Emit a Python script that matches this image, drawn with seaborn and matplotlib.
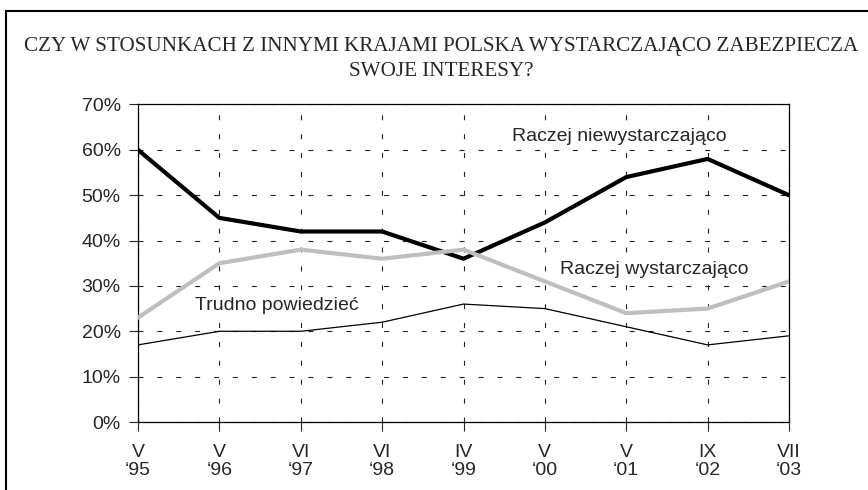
import pandas as pd
import matplotlib.pyplot as plt
import seaborn as sns
from matplotlib.patches import Rectangle
from matplotlib.ticker import PercentFormatter

# dane z wykresu
okresy = ["V\n\u201895", "V\n\u201896", "VI\n\u201897", "VI\n\u201898", "IV\n\u201899",
          "V\n\u201800", "V\n\u201801", "IX\n\u201802", "VII\n\u201803"]
niewystarczajaco = [60, 45, 42, 42, 36, 44, 54, 58, 50]
wystarczajaco = [23, 35, 38, 36, 38, 31, 24, 25, 31]
trudno = [17, 20, 20, 22, 26, 25, 21, 17, 19]

df = pd.DataFrame({
    "x": list(range(len(okresy))) * 3,
    "val": niewystarczajaco + wystarczajaco + trudno,
    "seria": ["Raczej niewystarczająco"] * 9 + ["Raczej wystarczająco"] * 9 + ["Trudno powiedzieć"] * 9,
})

sns.set_style("white")
plt.rcParams['font.family'] = ['Liberation Sans', 'DejaVu Sans']

fig = plt.figure(figsize=(8.68, 4.9), dpi=100)
ax = fig.add_axes([138/868, 1-422/490, (789-138)/868, (422-104.5)/490])

kolory = {"Raczej niewystarczająco": "black", "Raczej wystarczająco": "#bfbfbf", "Trudno powiedzieć": "black"}
grubosci = {"Raczej niewystarczająco": 3.0, "Raczej wystarczająco": 3.0, "Trudno powiedzieć": 0.9}
for nazwa, grp in df.groupby("seria"):
    sns.lineplot(data=grp, x="x", y="val", color=kolory[nazwa], lw=grubosci[nazwa], ax=ax, zorder=3)

ax.set_xlim(0, 8)
ax.set_ylim(0, 70)
ax.set_xticks(range(len(okresy)))
ax.set_xticklabels(okresy, fontsize=14, linespacing=1.1)
ax.set_yticks(range(0, 71, 10))
ax.yaxis.set_major_formatter(PercentFormatter(decimals=0))
ax.tick_params(axis='y', labelsize=14, direction='out', length=6.5, width=0.8, left=True, pad=6)
ax.tick_params(axis='x', direction='out', length=6.5, width=0.8, bottom=True, pad=9)
ax.set_xlabel("")
ax.set_ylabel("")
ax.grid(True, color="#222222", lw=0.8, linestyle=(0, (4.5, 12.5)))
for s in ax.spines.values():
    s.set_color("black")
    s.set_linewidth(0.9)

etykieta = dict(fontsize=14, ha="center", va="center", zorder=2,
                bbox=dict(facecolor="white", edgecolor="none", pad=0.5))
ax.text(5.91, 62.9, "Raczej niewystarczająco", **etykieta)
ax.text(6.35, 33.7, "Raczej wystarczająco", **etykieta)
ax.text(1.71, 25.6, "Trudno powiedzieć", **etykieta)

fig.text(441/868, 1-47/490, "CZY W STOSUNKACH Z INNYMI KRAJAMI POLSKA WYSTARCZAJĄCO ZABEZPIECZA",
         family="Liberation Serif", fontsize=15.2, ha="center", va="center")
fig.text(441/868, 1-71/490, "SWOJE INTERESY?", family="Liberation Serif", fontsize=15.2, ha="center", va="center")

fig.patches.append(Rectangle((6/868, -0.1), 1.2, 1-11/490+0.1, transform=fig.transFigure,
                             fill=False, edgecolor="black", lw=1.5))

fig.savefig("out.png", dpi=100)
